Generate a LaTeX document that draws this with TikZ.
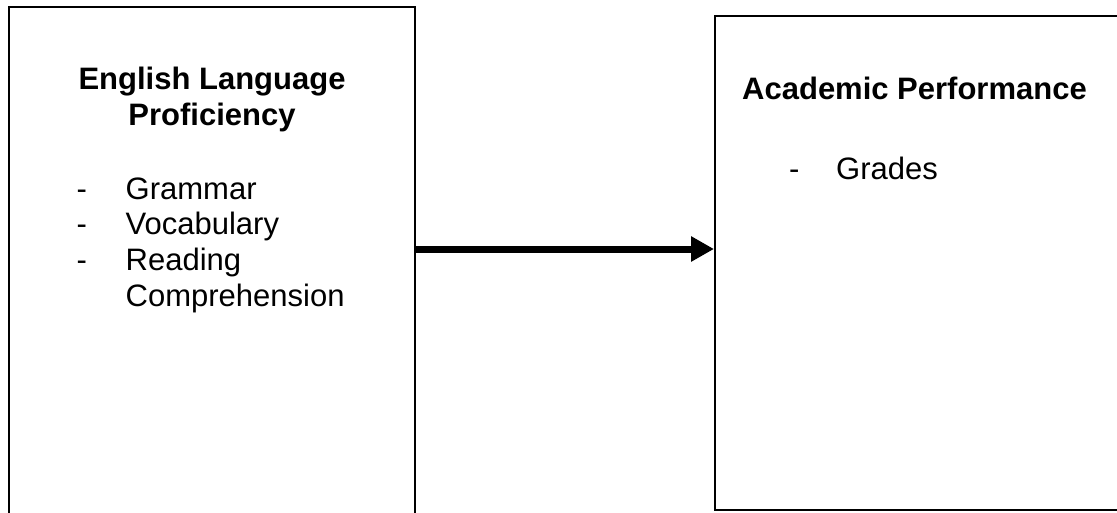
\documentclass[tikz,border=0pt]{standalone}
\usepackage{fontspec}
\setmainfont{Liberation Sans}
\usetikzlibrary{arrows.meta}

\begin{document}
\begin{tikzpicture}[x = 1pt, y = -1pt, >= {Triangle[length=23pt, width=24pt]},
    box/.style = {draw, line width=2pt, rectangle, inner sep=0pt},
    title/.style = {font=\fontsize{31}{35.5}\selectfont\bfseries, inner sep=0pt, align=center},
    item/.style = {font=\fontsize{31}{37}\selectfont, inner sep=0pt, anchor=base west}]
    \useasboundingbox (0, 0) rectangle (1117, 512);
    \clip (0, 0) rectangle (1117, 512);
    \node[box, minimum width=406pt, minimum height=533pt] (elp) at (212, 273.5) {};
    \node[box, minimum width=415pt, minimum height=494pt] (ap) at (922.5, 263) {};
    % left box texts
    \node[title, anchor=base] (elpt) at (212, 125) {English Language\\Proficiency};
    \node[item] (d1) at (76.5, 199) {-};
    \node[item] (d2) at (76.5, 234.7) {-};
    \node[item] (d3) at (76.5, 270.4) {-};
    \node[item] (gram) at (125.5, 199) {Grammar};
    \node[item] (voc) at (125.5, 234.7) {Vocabulary};
    \node[item] (read) at (125.5, 270.4) {Reading};
    \node[item] (comp) at (125.5, 306.5) {Comprehension};
    % right box texts
    \node[title, anchor=base west] (apt) at (742, 99) {Academic Performance};
    \node[item] (d4) at (789, 179) {-};
    \node[item] (grad) at (836, 179) {Grades};
    \coordinate (mid) at (0, 249);
    \draw[->, line width=7pt] (elp.east |- mid) -- (ap.west |- mid);
\end{tikzpicture}
\end{document}
